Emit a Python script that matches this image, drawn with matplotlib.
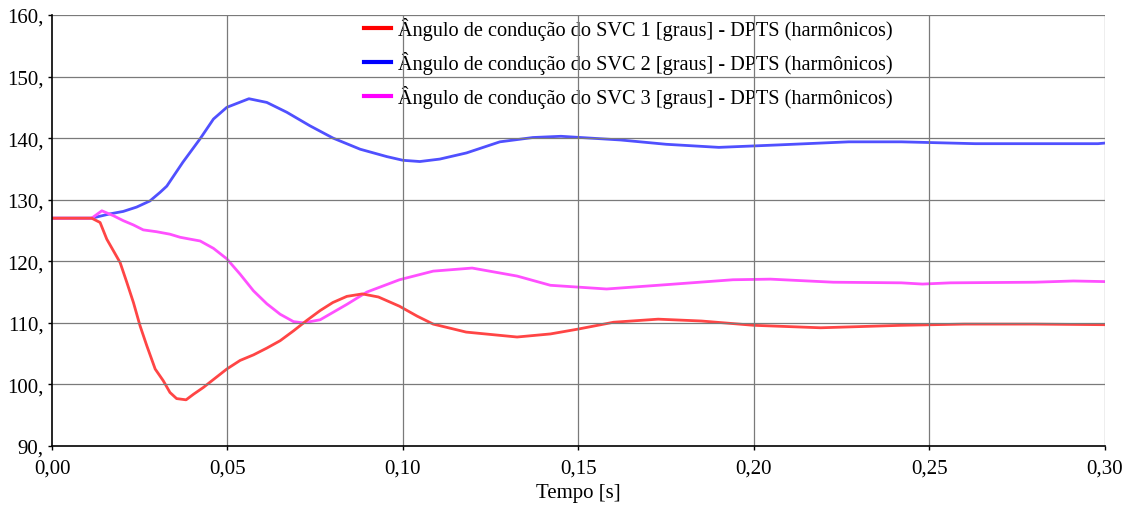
import matplotlib
matplotlib.use('Agg')
import matplotlib.pyplot as plt
from matplotlib.ticker import FuncFormatter

# conduction angle of each SVC
t_svc1 = [0, 0.0113, 0.0137, 0.0156, 0.0175, 0.0194, 0.0213, 0.0232, 0.0251,
          0.027, 0.0294, 0.0317, 0.0336, 0.0355, 0.0382, 0.0403, 0.0431,
          0.046, 0.0498, 0.0536, 0.0574, 0.0612, 0.065, 0.0688, 0.0726,
          0.0764, 0.080, 0.084, 0.0884, 0.093, 0.099, 0.104, 0.1086, 0.118,
          0.1325, 0.142, 0.150, 0.160, 0.1727, 0.185, 0.200, 0.219, 0.242,
          0.26, 0.28, 0.30]
svc1 = [127, 127, 126.3, 123.6, 121.7, 119.8, 116.6, 113.3, 109.5,
        106.3, 102.5, 100.6, 98.7, 97.7, 97.5, 98.4, 99.5,
        100.8, 102.5, 103.9, 104.8, 105.9, 107.1, 108.7, 110.4,
        112, 113.3, 114.3, 114.7, 114.2, 112.7, 111.1, 109.8, 108.5,
        107.7, 108.2, 109, 110.1, 110.6, 110.3, 109.6, 109.2, 109.6,
        109.8, 109.8, 109.7]

t_svc2 = [0, 0.0113, 0.0165, 0.0203, 0.0241, 0.0279, 0.0308, 0.0327, 0.0373,
          0.0422, 0.046, 0.0498, 0.0561, 0.0612, 0.0669, 0.0735, 0.0801,
          0.0878, 0.0954, 0.100, 0.1048, 0.1105, 0.1181, 0.1276, 0.137,
          0.145, 0.162, 0.175, 0.19, 0.207, 0.227, 0.242, 0.263, 0.298, 0.30]
svc2 = [127, 127, 127.7, 128.1, 128.8, 129.8, 131.2, 132.2, 136.1,
        139.9, 143.1, 145, 146.4, 145.8, 144.2, 142, 140,
        138.2, 137, 136.4, 136.2, 136.6, 137.6, 139.4, 140.1,
        140.3, 139.7, 139, 138.5, 138.9, 139.4, 139.4, 139.1, 139.1, 139.2]

t_svc3 = [0, 0.0113, 0.0142, 0.0175, 0.0203, 0.0232, 0.026, 0.0298, 0.0336,
          0.0365, 0.0393, 0.0422, 0.046, 0.0498, 0.0536, 0.0574, 0.0612,
          0.065, 0.0688, 0.0716, 0.0764, 0.084, 0.0897, 0.099, 0.1086,
          0.1197, 0.1325, 0.142, 0.158, 0.175, 0.194, 0.2047, 0.2226, 0.242,
          0.248, 0.256, 0.28, 0.291, 0.30]
svc3 = [127, 127, 128.2, 127.4, 126.6, 125.9, 125.1, 124.8, 124.4,
        123.9, 123.6, 123.3, 122.1, 120.4, 117.9, 115.2, 113.1,
        111.4, 110.2, 110, 110.5, 113, 115, 117, 118.4,
        118.9, 117.6, 116.1, 115.5, 116.2, 117, 117.1, 116.6, 116.5,
        116.3, 116.5, 116.6, 116.8, 116.7]

labels = ['Ângulo de condução do SVC 1 [graus] - DPTS (harmônicos)',
          'Ângulo de condução do SVC 2 [graus] - DPTS (harmônicos)',
          'Ângulo de condução do SVC 3 [graus] - DPTS (harmônicos)']
x_ticks = [0, 0.05, 0.10, 0.15, 0.20, 0.25, 0.30]
y_ticks = [90, 100, 110, 120, 130, 140, 150, 160]

plt.rcParams['font.family'] = ['Liberation Serif', 'DejaVu Serif']

fig = plt.figure(figsize=(11.28, 5.06), dpi=100)
ax = fig.add_axes([0.0461, 0.1166, 0.9335, 0.8518])

ax.plot(t_svc1, svc1, color='#ff4545', lw=2, zorder=4, solid_joinstyle='round')
ax.plot(t_svc2, svc2, color='#5050ff', lw=2, zorder=3, solid_joinstyle='round')
ax.plot(t_svc3, svc3, color='#ff50ff', lw=2, zorder=3, solid_joinstyle='round')

# legend handles are drawn in the pure colours
h1, = ax.plot([], [], color='red', lw=3)
h2, = ax.plot([], [], color='blue', lw=3)
h3, = ax.plot([], [], color='magenta', lw=3)
ax.legend([h1, h2, h3], labels, loc='upper left', bbox_to_anchor=(0.294, 1.0),
          frameon=False, fontsize=14.6, handlelength=1.35, handletextpad=0.35,
          labelspacing=0.55, borderpad=0.1, borderaxespad=0)

ax.set_xlim(0, 0.30)
ax.set_ylim(90, 160)
ax.set_xticks(x_ticks)
ax.set_yticks(y_ticks)
ax.xaxis.set_major_formatter(FuncFormatter(lambda v, p: f'{v:.2f}'.replace('.', ',')))
ax.yaxis.set_major_formatter(FuncFormatter(lambda v, p: f'{int(round(v))},'))
ax.tick_params(labelsize=15, length=3, width=1, colors='black')
ax.tick_params(axis='x', pad=6)
ax.tick_params(axis='y', pad=3)
ax.set_xlabel('Tempo [s]', fontsize=15, labelpad=4)

# grid lies over the curves and the legend text in the reference
for xv in x_ticks[1:]:
    ax.axvline(xv, color='#7a7a7a', lw=0.9, zorder=6)
for yv in y_ticks[1:]:
    ax.axhline(yv, color='#7a7a7a', lw=0.9, zorder=6)

for s in ['top', 'right']:
    ax.spines[s].set_visible(False)
for s in ['left', 'bottom']:
    ax.spines[s].set_linewidth(1.2)
    ax.spines[s].set_zorder(7)

fig.savefig('out.png', dpi=100)
